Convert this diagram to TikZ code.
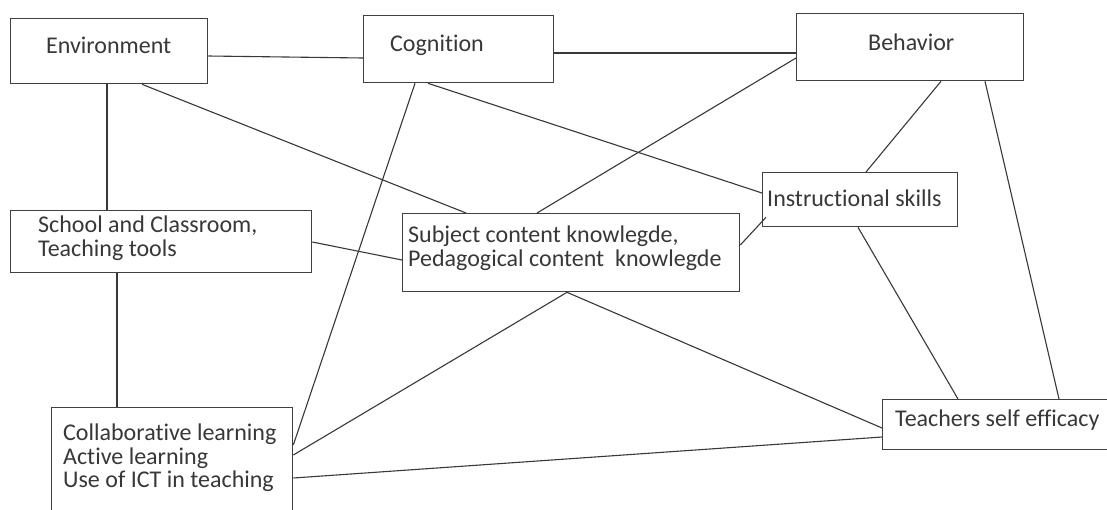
\documentclass[tikz,border=0pt]{standalone}
\usepackage{fontspec}
\setmainfont{Carlito}[Ligatures={NoCommon,NoContextual,NoRare}]
\usetikzlibrary{positioning}
\tikzset{
  boite/.style={
    rectangle,
    draw=black!75,line width=1.3pt,
    anchor=north west,
    inner sep=0pt},
  texte/.style={
    inner sep=0pt,
    align=left,
    text=black!78,
    font=\fontsize{24}{23.5}\selectfont},
  line/.style = {draw=black!78,line width=1.1pt},
}
\begin{document}
\begin{tikzpicture}[x=1pt,y=1pt]
  \useasboundingbox (0,0) rectangle (1107,-509);
  \clip (0,0) rectangle (1107,-509);
  \fill[white] (0,0) rectangle (1107,-509);
  % boxes
  \node[boite,minimum width=197,minimum height=65](env) at (10,-18) {};
  \node[boite,minimum width=190,minimum height=67](cog) at (363,-15) {};
  \node[boite,minimum width=227,minimum height=67](beh) at (796,-13) {};
  \node[boite,minimum width=195,minimum height=54](instr) at (762,-172) {};
  \node[boite,minimum width=337,minimum height=78](subj) at (402,-213) {};
  \node[boite,minimum width=301,minimum height=62](school) at (10,-210) {};
  \node[boite,minimum width=241,minimum height=120](collab) at (51,-407) {};
  \node[boite,minimum width=240,minimum height=50](teach) at (882,-399) {};
  % texts
  \node[texte,below right=19pt and 36pt of env.north west](env_txt) {Environment};
  \node[texte,below right=20pt and 27pt of cog.north west](cog_txt) {Cognition};
  \node[texte,below right=21pt and 72pt of beh.north west](beh_txt) {Behavior};
  \node[texte,below right=18pt and 5pt of instr.north west](instr_txt) {Instructional skills};
  \node[texte,below right=13pt and 6pt of subj.north west](subj_txt) {Subject content knowlegde,\\Pedagogical content~~knowlegde};
  \node[texte,below right=6pt and 28pt of school.north west](school_txt) {School and Classroom,\\Teaching tools};
  \node[texte,below right=17pt and 12pt of collab.north west](collab_txt) {Collaborative learning\\Active learning\\Use of ICT in teaching};
  \node[texte,below right=11pt and 13pt of teach.north west](teach_txt) {Teachers self efficacy};
  % links
  \draw[line] ([yshift=-38pt]env.north east) -- ([yshift=-43pt]cog.north west);
  \draw[line] ([xshift=97pt]env.south west) -- ([xshift=97pt]school.north west);
  \draw[line] ([xshift=132pt]env.south west) -- ([xshift=64pt]subj.north west);
  \draw[line] ([xshift=52pt]cog.south west) -- ([yshift=-38pt]collab.north east);
  \draw[line] ([xshift=65pt]cog.south west) -- ([yshift=-21pt]instr.north west);
  \draw[line] ([yshift=-38pt]cog.north east) -- ([yshift=-40pt]beh.north west);
  \draw[line] ([xshift=135pt]subj.north west) -- ([yshift=-45pt]beh.north west);
  \draw[line] ([xshift=145pt]beh.south west) -- ([xshift=104pt]instr.north west);
  \draw[line] ([xshift=189pt]beh.south west) -- ([xshift=177pt]teach.north west);
  \draw[line] ([yshift=-32pt]school.north east) -- ([yshift=-47pt]subj.north west);
  \draw[line] ([yshift=-32pt]subj.north east) -- ([xshift=4pt,yshift=10pt]instr.south west);
  \draw[line] ([xshift=165pt]subj.south west) -- ([yshift=-48pt]collab.north east);
  \draw[line] ([xshift=165pt]subj.south west) -- ([yshift=-29pt]teach.north west);
  \draw[line] ([xshift=96pt]instr.south west) -- ([xshift=76pt]teach.north west);
  \draw[line] ([yshift=-71pt]collab.north east) -- ([yshift=-38pt]teach.north west);
  \draw[line] ([xshift=107pt]school.south west) -- ([xshift=66pt]collab.north west);
\end{tikzpicture}
\end{document}
